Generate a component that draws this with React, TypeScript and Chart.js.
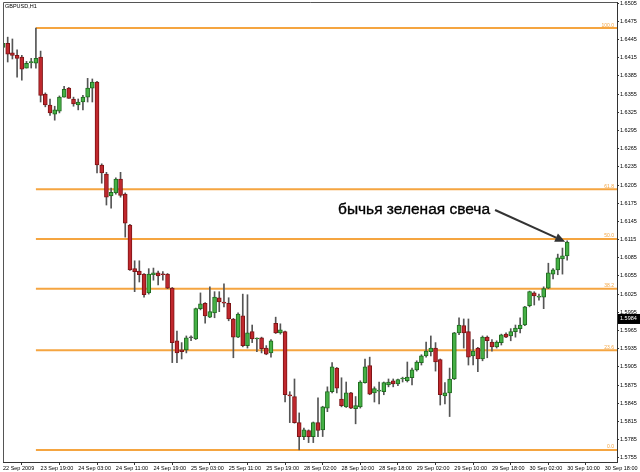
import React, { useEffect, useRef } from "react";
import { Chart, registerables } from "chart.js";

Chart.register(...registerables);

// ---- Data (GBPUSD, H1) ----
const opens = [
  1.6432, 1.6439, 1.6423, 1.6419, 1.6416, 1.6398, 1.6407, 1.6406, 1.6416, 1.6355,
  1.6337, 1.6322, 1.6327, 1.6350, 1.6365, 1.6347, 1.6337, 1.6342, 1.6350, 1.6365,
  1.6375, 1.6238, 1.6223, 1.6187, 1.6192, 1.6215, 1.6190, 1.6139, 1.6067, 1.6063,
  1.6058, 1.6027, 1.6057, 1.6060, 1.6058, 1.6058, 1.6035, 1.5948, 1.5933, 1.5933,
  1.5953, 1.5951, 1.6001, 1.6010, 1.5987, 1.5994, 1.6019, 1.6012, 1.6010, 1.5984,
  1.5954, 1.5989, 1.5940, 1.5963, 1.5951, 1.5953, 1.5936, 1.5928, 1.5977, 1.5961,
  1.5963, 1.5858, 1.5856, 1.5813, 1.5790, 1.5800, 1.5790, 1.5813, 1.5801, 1.5837,
  1.5864, 1.5903, 1.5852, 1.5839, 1.5862, 1.5836, 1.5839, 1.5879, 1.5907, 1.5862,
  1.5865, 1.5864, 1.5875, 1.5882, 1.5877, 1.5885, 1.5882, 1.5887, 1.5900, 1.5912,
  1.5923, 1.5930, 1.5936, 1.5917, 1.5857, 1.5862, 1.5885, 1.5961, 1.5973, 1.5963,
  1.5923, 1.5936, 1.5918, 1.5954, 1.5946, 1.5938, 1.5945, 1.5959, 1.5956, 1.5963,
  1.5968, 1.5974, 1.6006, 1.6027, 1.6020, 1.6020, 1.6035, 1.6058, 1.6065, 1.6083,
  1.6088,
];
const highs = [
  1.6444, 1.6449, 1.6446, 1.6428, 1.6419, 1.6409, 1.6414, 1.6464, 1.6426, 1.6357,
  1.6347, 1.6335, 1.6352, 1.6368, 1.6366, 1.6350, 1.6347, 1.6353, 1.6381, 1.6380,
  1.6376, 1.6240, 1.6226, 1.6200, 1.6217, 1.6226, 1.6192, 1.6140, 1.6080, 1.6080,
  1.6059, 1.6067, 1.6068, 1.6063, 1.6062, 1.6059, 1.6036, 1.5964, 1.5945, 1.5956,
  1.5956, 1.6002, 1.6027, 1.6011, 1.6037, 1.6029, 1.6029, 1.6042, 1.6019, 1.5985,
  1.5994, 1.6025, 1.6024, 1.5974, 1.5953, 1.5954, 1.5940, 1.5950, 1.5987, 1.5976,
  1.5964, 1.5864, 1.5885, 1.5829, 1.5804, 1.5801, 1.5814, 1.5854, 1.5840, 1.5872,
  1.5912, 1.5904, 1.5887, 1.5880, 1.5863, 1.5856, 1.5882, 1.5918, 1.5921, 1.5872,
  1.5880, 1.5880, 1.5885, 1.5885, 1.5885, 1.5888, 1.5913, 1.5903, 1.5915, 1.5925,
  1.5946, 1.5956, 1.5945, 1.5918, 1.5879, 1.5903, 1.5962, 1.5986, 1.5984, 1.5984,
  1.5950, 1.5937, 1.5956, 1.5956, 1.5950, 1.5948, 1.5959, 1.5961, 1.5968, 1.5974,
  1.5986, 1.6005, 1.6030, 1.6029, 1.6025, 1.6037, 1.6076, 1.6067, 1.6091, 1.6101,
  1.6113,
];
const lows = [
  1.6423, 1.6408, 1.6413, 1.6383, 1.6378, 1.6398, 1.6398, 1.6398, 1.6342, 1.6334,
  1.6320, 1.6312, 1.6324, 1.6350, 1.6348, 1.6335, 1.6329, 1.6329, 1.6342, 1.6342,
  1.6225, 1.6208, 1.6172, 1.6167, 1.6190, 1.6185, 1.6119, 1.6064, 1.6029, 1.6045,
  1.6020, 1.6025, 1.6048, 1.6040, 1.6048, 1.6034, 1.5912, 1.5912, 1.5918, 1.5928,
  1.5948, 1.5950, 1.5999, 1.5977, 1.5986, 1.5986, 1.5996, 1.6004, 1.5981, 1.5920,
  1.5953, 1.5938, 1.5936, 1.5945, 1.5930, 1.5928, 1.5925, 1.5921, 1.5960, 1.5959,
  1.5847, 1.5813, 1.5812, 1.5768, 1.5785, 1.5780, 1.5780, 1.5790, 1.5790, 1.5831,
  1.5862, 1.5862, 1.5839, 1.5838, 1.5836, 1.5811, 1.5837, 1.5878, 1.5859, 1.5847,
  1.5844, 1.5859, 1.5872, 1.5872, 1.5874, 1.5880, 1.5880, 1.5875, 1.5898, 1.5908,
  1.5921, 1.5923, 1.5898, 1.5842, 1.5844, 1.5823, 1.5884, 1.5958, 1.5936, 1.5908,
  1.5908, 1.5897, 1.5915, 1.5920, 1.5931, 1.5936, 1.5941, 1.5953, 1.5948, 1.5954,
  1.5961, 1.5973, 1.6004, 1.6007, 1.6015, 1.6001, 1.6034, 1.6050, 1.6057, 1.6058,
  1.6081,
];
const closes = [
  1.6439, 1.6421, 1.6419, 1.6414, 1.6396, 1.6406, 1.6408, 1.6414, 1.6353, 1.6337,
  1.6324, 1.6329, 1.6350, 1.6363, 1.6348, 1.6339, 1.6342, 1.6350, 1.6365, 1.6375,
  1.6238, 1.6225, 1.6185, 1.6193, 1.6215, 1.6188, 1.6142, 1.6065, 1.6062, 1.6057,
  1.6024, 1.6058, 1.6060, 1.6055, 1.6057, 1.6035, 1.5945, 1.5928, 1.5930, 1.5953,
  1.5953, 1.6001, 1.6009, 1.5989, 1.5996, 1.6020, 1.6012, 1.6010, 1.5984, 1.5954,
  1.5992, 1.5940, 1.5961, 1.5951, 1.5952, 1.5935, 1.5926, 1.5948, 1.5961, 1.5966,
  1.5859, 1.5857, 1.5813, 1.5790, 1.5801, 1.5790, 1.5813, 1.5800, 1.5839, 1.5864,
  1.5905, 1.5870, 1.5841, 1.5862, 1.5837, 1.5841, 1.5880, 1.5905, 1.5860, 1.5869,
  1.5866, 1.5879, 1.5880, 1.5877, 1.5884, 1.5886, 1.5888, 1.5900, 1.5913, 1.5923,
  1.5931, 1.5936, 1.5913, 1.5859, 1.5862, 1.5885, 1.5961, 1.5974, 1.5961, 1.5921,
  1.5931, 1.5918, 1.5954, 1.5948, 1.5938, 1.5946, 1.5958, 1.5954, 1.5963, 1.5969,
  1.5974, 1.6004, 1.6029, 1.6022, 1.6021, 1.6034, 1.6060, 1.6065, 1.6085, 1.6088,
  1.6111,
];

const xTickBars = [0, 8, 16, 24, 32, 40, 48, 56, 64, 72, 80, 88, 96, 104, 112, 120, 128];
const xTickLabels = [
  "22 Sep 2009", "23 Sep 19:00", "24 Sep 03:00", "24 Sep 11:00", "24 Sep 19:00",
  "25 Sep 03:00", "25 Sep 11:00", "25 Sep 19:00", "28 Sep 02:00", "28 Sep 10:00",
  "28 Sep 18:00", "29 Sep 02:00", "29 Sep 10:00", "29 Sep 18:00", "30 Sep 02:00",
  "30 Sep 10:00", "30 Sep 18:00",
];
const yTickValues = [
  1.5755, 1.5785, 1.5815, 1.5845, 1.5875, 1.5905, 1.5935, 1.5965, 1.5995, 1.6025,
  1.6055, 1.6085, 1.6115, 1.6145, 1.6175, 1.6205, 1.6235, 1.6265, 1.6295, 1.6325,
  1.6355, 1.6385, 1.6415, 1.6445, 1.6475, 1.6505,
];

const fibHigh = 1.6464;
const fibLow = 1.5768;
const fibStartBar = 7;
const fibRatios = [0, 23.6, 38.2, 50.0, 61.8, 100.0];
const fibLabels = ["0.0", "23.6", "38.2", "50.0", "61.8", "100.0"];

const bidPrice = 1.5984;
const symbolTitle = "GBPUSD,H1";
const annotationText = "бычья зеленая свеча";
const annotationBar = 120;

// ---- Styling ----
const X_MIN = 0;
const X_MAX = 130.6;
const Y_MIN = 1.5748;
const Y_MAX = 1.6507;
const ORANGE = "#f5a540";
const GREEN_FILL = "#45b045";
const GREEN_EDGE = "#1f6b1f";
const RED_FILL = "#c0282d";
const RED_EDGE = "#7d1416";
const DOJI = "#555555";
const WICK = "#555555";
const AXIS_FONT = { family: "'Liberation Sans', Arial, sans-serif", size: 5.5 };

const overlayPlugin = {
  id: "overlay",
  afterDraw(chart: any) {
    const { ctx, chartArea: a, scales } = chart;
    const x = scales.x;
    const y = scales.y;
    ctx.save();

    // frame (left and top)
    ctx.strokeStyle = "#555";
    ctx.lineWidth = 1;
    ctx.beginPath();
    ctx.moveTo(a.left + 0.5, a.bottom);
    ctx.lineTo(a.left + 0.5, a.top + 0.5);
    ctx.lineTo(a.right, a.top + 0.5);
    ctx.stroke();

    // symbol title
    ctx.font = "5.5px 'Liberation Sans', Arial, sans-serif";
    ctx.fillStyle = "#000";
    ctx.textAlign = "left";
    ctx.textBaseline = "top";
    ctx.fillText(symbolTitle, a.left + 2, a.top + 2);

    // fib level labels
    ctx.font = "5px 'Liberation Sans', Arial, sans-serif";
    ctx.fillStyle = ORANGE;
    ctx.textAlign = "right";
    ctx.textBaseline = "alphabetic";
    fibRatios.forEach((r, i) => {
      const lvl = fibLow + ((fibHigh - fibLow) * r) / 100;
      const py = y.getPixelForValue(lvl);
      ctx.fillText(fibLabels[i], a.right - 3, py - 1.5);
    });

    // bid price label
    const by = y.getPixelForValue(bidPrice);
    ctx.fillStyle = "#000";
    ctx.fillRect(a.right + 1, by - 5, 22, 10);
    ctx.fillStyle = "#fff";
    ctx.font = "5.5px 'Liberation Sans', Arial, sans-serif";
    ctx.textAlign = "left";
    ctx.textBaseline = "middle";
    ctx.fillText(bidPrice.toFixed(4), a.right + 3, by);

    // annotation text + arrow
    ctx.font = "15.5px 'Liberation Sans', Arial, sans-serif";
    ctx.fillStyle = "#000";
    ctx.strokeStyle = "#000";
    ctx.lineWidth = 0.35;
    ctx.textAlign = "left";
    ctx.textBaseline = "alphabetic";
    const tx = 338;
    const ty = 214;
    ctx.fillText(annotationText, tx, ty);
    ctx.strokeText(annotationText, tx, ty);
    const tw = ctx.measureText(annotationText).width;
    const sx = tx + tw + 5;
    const sy = ty - 4;
    const ex = x.getPixelForValue(annotationBar) - 2;
    const ey = y.getPixelForValue(highs[annotationBar]) + 1;
    const ang = Math.atan2(ey - sy, ex - sx);
    const headLen = 10;
    const headW = 4.5;
    const bx = ex - headLen * Math.cos(ang);
    const byy = ey - headLen * Math.sin(ang);
    ctx.strokeStyle = "#333";
    ctx.lineWidth = 2;
    ctx.beginPath();
    ctx.moveTo(sx, sy);
    ctx.lineTo(bx, byy);
    ctx.stroke();
    ctx.fillStyle = "#333";
    ctx.beginPath();
    ctx.moveTo(ex, ey);
    ctx.lineTo(bx + headW * Math.sin(ang), byy - headW * Math.cos(ang));
    ctx.lineTo(bx - headW * Math.sin(ang), byy + headW * Math.cos(ang));
    ctx.closePath();
    ctx.fill();

    ctx.restore();
  },
};

export default function App() {
  const canvasRef = useRef<HTMLCanvasElement | null>(null);

  useEffect(() => {
    const canvas = canvasRef.current;
    if (!canvas) return;

    const bodyData = opens.map((o, i) => ({ x: i, y: [o, closes[i]] }));
    const wickData = opens.map((_, i) => ({ x: i, y: [lows[i], highs[i]] }));
    const bodyFill = opens.map((o, i) =>
      closes[i] > o ? GREEN_FILL : closes[i] < o ? RED_FILL : DOJI
    );
    const bodyEdge = opens.map((o, i) =>
      closes[i] > o ? GREEN_EDGE : closes[i] < o ? RED_EDGE : DOJI
    );

    const fibDatasets = fibRatios.map((r) => {
      const lvl = fibLow + ((fibHigh - fibLow) * r) / 100;
      return {
        type: "line" as const,
        label: "fib " + r,
        data: [
          { x: fibStartBar, y: lvl },
          { x: X_MAX, y: lvl },
        ],
        borderColor: ORANGE,
        borderWidth: 2,
        pointRadius: 0,
        fill: false,
        order: 3,
      };
    });

    const chart = new Chart(canvas, {
      type: "bar",
      data: {
        datasets: [
          {
            type: "bar" as const,
            label: "body",
            data: bodyData as any,
            backgroundColor: bodyFill,
            borderColor: bodyEdge,
            borderWidth: 1,
            borderSkipped: false,
            barThickness: 4,
            minBarLength: 1,
            grouped: false,
            order: 1,
          },
          {
            type: "bar" as const,
            label: "wick",
            data: wickData as any,
            backgroundColor: WICK,
            borderWidth: 0,
            barThickness: 1,
            grouped: false,
            order: 2,
          },
          ...(fibDatasets as any[]),
        ],
      },
      options: {
        animation: false,
        responsive: false,
        devicePixelRatio: 1,
        layout: { padding: { left: 3, top: 2, right: 0, bottom: 0 } },
        plugins: {
          legend: { display: false },
          tooltip: { enabled: false },
          title: { display: false },
        },
        scales: {
          x: {
            type: "linear",
            min: X_MIN,
            max: X_MAX,
            offset: false,
            position: "bottom",
            grid: {
              display: true,
              drawOnChartArea: false,
              drawTicks: true,
              tickLength: 3,
              color: "#333",
            },
            border: { display: true, color: "#333", width: 1 },
            ticks: {
              autoSkip: false,
              maxRotation: 0,
              minRotation: 0,
              align: "start",
              padding: 0,
              font: AXIS_FONT,
              color: "#000",
              callback: (_v: any, i: number) => xTickLabels[i] ?? "",
            },
            afterBuildTicks: (s: any) => {
              s.ticks = xTickBars.map((v) => ({ value: v }));
            },
            afterFit: (s: any) => {
              s.height = 10;
              s.paddingLeft = 0;
              s.paddingRight = 0;
            },
          } as any,
          y: {
            type: "linear",
            position: "right",
            min: Y_MIN,
            max: Y_MAX,
            grid: {
              display: true,
              drawOnChartArea: false,
              drawTicks: true,
              tickLength: 2,
              color: "#333",
            },
            border: { display: true, color: "#333", width: 1 },
            ticks: {
              autoSkip: false,
              padding: 1,
              font: AXIS_FONT,
              color: "#000",
              callback: (v: any) => Number(v).toFixed(4),
            },
            afterBuildTicks: (s: any) => {
              s.ticks = yTickValues.map((v) => ({ value: v }));
            },
            afterFit: (s: any) => {
              s.width = 23;
              s.paddingTop = 0;
              s.paddingBottom = 0;
            },
          } as any,
        },
      },
      plugins: [overlayPlugin],
    });

    return () => {
      chart.destroy();
    };
  }, []);

  return (
    <div style={{ position: "absolute", left: 0, top: 0, width: 640, height: 472, background: "#fff" }}>
      <canvas
        ref={canvasRef}
        width={640}
        height={472}
        style={{ display: "block", width: 640, height: 472 }}
      />
    </div>
  );
}
